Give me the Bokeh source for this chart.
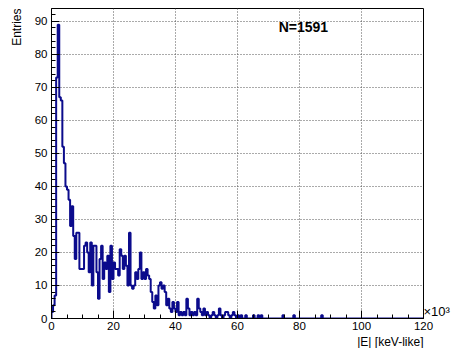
import numpy as np
from bokeh.plotting import figure
from bokeh.models import (Range1d, Label, Title, LinearAxis, FixedTicker,
                          SingleIntervalTicker)
from bokeh.embed import file_html
from bokeh.resources import INLINE

# ---- data ----
bin_width = 0.5          # bin width, in units of 10^3
n_bins = 240             # 0 .. 120 (x10^3)
counts_head = [
    2, 4, 7, 73, 89, 67, 66, 52, 47, 40,
    39, 36, 28, 34, 25, 18, 26, 26, 15, 15,
    15, 22, 23, 20, 14, 23, 10, 22, 22, 14,
    6, 18, 22, 12, 17, 15, 19, 8, 22, 12,
    17, 15, 15, 13, 21, 19, 15, 19, 16, 10,
    26, 10, 9, 10, 14, 12, 15, 20, 12, 14,
    12, 15, 13, 12, 8, 5, 3, 7, 4, 10,
    11, 9, 10, 8, 4, 6, 3, 2, 5, 3,
    2, 5, 1, 2, 1, 2, 1, 6, 3, 1,
    2, 1, 2, 1, 6, 3, 2, 1, 3, 1,
    2, 1, 0, 1, 2, 1, 0, 1, 3, 1,
    0, 1, 2, 2, 1, 0, 1, 2, 1, 0,
    1, 0, 1, 0, 0, 1, 0, 0, 0, 0,
    1, 0, 0, 1, 0, 1, 0, 0, 0, 0,
    0, 0, 0, 0, 0, 0, 0, 0, 0, 1,
    0, 0, 0, 0, 0, 0, 1, 0, 0, 0,
    0, 0, 0, 0, 0, 0, 0, 0, 0, 0,
    0, 0, 0, 0, 1, 0, 0, 0, 0, 0,
]
x_major = 20
y_major = 10
x_max = 120
y_max = 93.9
stats_text = "N=1591"
x_title = "|E| [keV-like]"
y_title = "Entries"
exp_text = "\u00d710\u00b3"
exp_pos = 2

counts = np.array(counts_head + [0] * (n_bins - len(counts_head)), dtype=float)
edges = np.arange(n_bins + 1) * bin_width

FONT = "Liberation Sans"
HIST_COLOR = "#0b0b8c"

p = figure(width=452, height=348,
           x_range=Range1d(0, x_max), y_range=Range1d(0, y_max),
           output_backend="svg", toolbar_location=None,
           min_border_left=50, min_border_right=27,
           min_border_top=8, min_border_bottom=29)
p.background_fill_color = "white"
p.border_fill_color = "white"
p.outline_line_color = "black"
p.outline_line_width = 1

# histogram outline as steps
xs = np.repeat(edges, 2)
ys = np.concatenate([[0.0], np.repeat(counts, 2), [0.0]])
p.line(xs, ys, line_color=HIST_COLOR, line_width=2)

# axes / ticks (ROOT style: ticks inside)
p.xaxis.ticker = SingleIntervalTicker(interval=x_major, num_minor_ticks=4)
p.yaxis.ticker = SingleIntervalTicker(interval=y_major, num_minor_ticks=5)
for ax in (p.xaxis[0], p.yaxis[0]):
    ax.major_tick_in = 8
    ax.major_tick_out = 0
    ax.minor_tick_in = 4
    ax.minor_tick_out = 0
    ax.axis_line_color = "black"
    ax.major_tick_line_color = "black"
    ax.minor_tick_line_color = "black"
    ax.major_label_text_font = FONT
    ax.major_label_text_font_size = "11.5px"
    ax.major_label_text_color = "black"
p.xaxis[0].major_label_standoff = 3
p.yaxis[0].major_label_standoff = 4

for g in (p.xgrid[0], p.ygrid[0]):
    g.grid_line_color = "#555555"
    g.grid_line_dash = "1 2"
    g.grid_line_width = 1

# exponent "x10^3" at the right end of the x axis (right-side tick label)
exp_axis = LinearAxis(ticker=FixedTicker(ticks=[exp_pos]),
                      major_label_overrides={exp_pos: exp_text},
                      axis_line_color=None, major_tick_line_color=None,
                      minor_tick_line_color=None,
                      major_tick_in=0, major_tick_out=0,
                      major_label_standoff=0,
                      major_label_text_font=FONT,
                      major_label_text_font_size="13px",
                      major_label_text_color="black")
p.add_layout(exp_axis, "right")

# axis titles (ROOT style: at the far ends)
p.add_layout(Title(text=x_title, align="right", standoff=0,
                   text_font=FONT, text_font_size="12px",
                   text_font_style="normal", text_color="black"), "below")
p.add_layout(Title(text=y_title, align="right", standoff=15,
                   text_font=FONT, text_font_size="12px",
                   text_font_style="normal", text_color="black"), "left")

p.add_layout(Label(x=73.3, y=88.2, text=stats_text,
                   text_align="left", text_baseline="middle",
                   text_font=FONT, text_font_size="14px", text_font_style="bold",
                   text_color="black"))

open("out.html", "w").write(file_html(p, INLINE))
